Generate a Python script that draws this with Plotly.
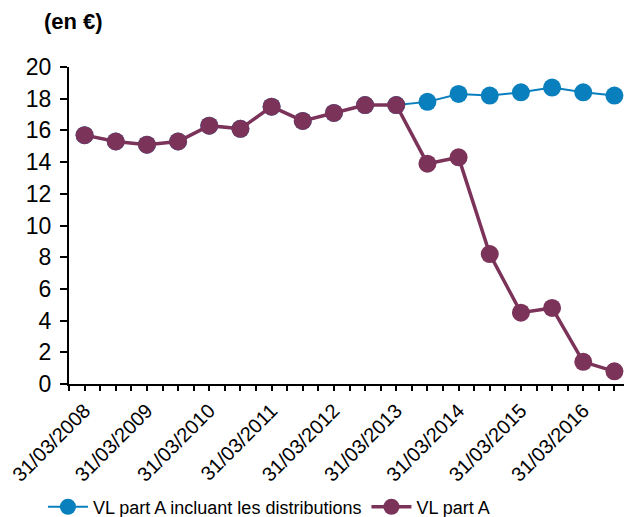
import plotly.graph_objects as go

dates = ["31/03/2008", "30/09/2008", "31/03/2009", "30/09/2009", "31/03/2010", "30/09/2010",
         "31/03/2011", "30/09/2011", "31/03/2012", "30/09/2012", "31/03/2013", "30/09/2013",
         "31/03/2014", "30/09/2014", "31/03/2015", "30/09/2015", "31/03/2016", "30/09/2016"]
vl_incl_distrib = [15.7, 15.3, 15.1, 15.3, 16.3, 16.1, 17.5, 16.6, 17.1, 17.6, 17.6,
                   17.8, 18.3, 18.2, 18.4, 18.7, 18.4, 18.2]
vl_part_a = [15.7, 15.3, 15.1, 15.3, 16.3, 16.1, 17.5, 16.6, 17.1, 17.6, 17.6,
             13.9, 14.3, 8.2, 4.5, 4.8, 1.4, 0.8]
y_ticks = [0, 2, 4, 6, 8, 10, 12, 14, 16, 18, 20]

x = list(range(len(dates)))
tickvals = [i * 0.5 - 0.5 for i in range(2 * len(dates) + 1)]
ticktext = []
for v in tickvals:
    if v >= 0 and float(v).is_integer() and int(v) % 2 == 0:
        ticktext.append(dates[int(v)])
    else:
        ticktext.append("")

BLUE = "#0a7fbd"
PURPLE = "#7c3359"

fig = go.Figure()
fig.add_trace(go.Scatter(
    x=x, y=vl_incl_distrib, mode="lines+markers",
    name="VL part A incluant les distributions",
    line=dict(color=BLUE, width=2),
    marker=dict(color=BLUE, size=18),
))
fig.add_trace(go.Scatter(
    x=x, y=vl_part_a, mode="lines+markers",
    name="VL part A",
    line=dict(color=PURPLE, width=3.5),
    marker=dict(color=PURPLE, size=18),
))

fig.update_layout(
    width=624, height=509,
    margin=dict(l=61, r=2, t=59, b=133),
    plot_bgcolor="white", paper_bgcolor="white",
    font=dict(family="Liberation Sans, Arial, sans-serif", color="black"),
    showlegend=True,
    legend=dict(orientation="h", xref="container", yref="container",
                x=0.056, xanchor="left", y=0.0196, yanchor="middle",
                font=dict(size=18), itemwidth=40, tracegroupgap=0),
    annotations=[dict(text="<b>(en €)</b>", xref="paper", yref="paper",
                      x=-0.048, y=1.142, xanchor="left", yanchor="middle",
                      showarrow=False, font=dict(size=22))],
)
fig.update_xaxes(
    range=[-0.5, 17.5], tickmode="array", tickvals=tickvals, ticktext=ticktext,
    tickangle=-45, ticks="outside", ticklen=5, tickwidth=2, tickcolor="black",
    showline=True, linecolor="black", linewidth=2, showgrid=False, zeroline=False,
    tickfont=dict(size=20), automargin=False,
)
fig.update_yaxes(
    range=[0, 20], tickmode="array", tickvals=y_ticks,
    ticks="outside", ticklen=7, tickwidth=2, tickcolor="black",
    showline=True, linecolor="black", linewidth=2, showgrid=False, zeroline=False,
    tickfont=dict(size=23), automargin=False, ticklabelstandoff=4,
)
fig.write_html("out.html")
